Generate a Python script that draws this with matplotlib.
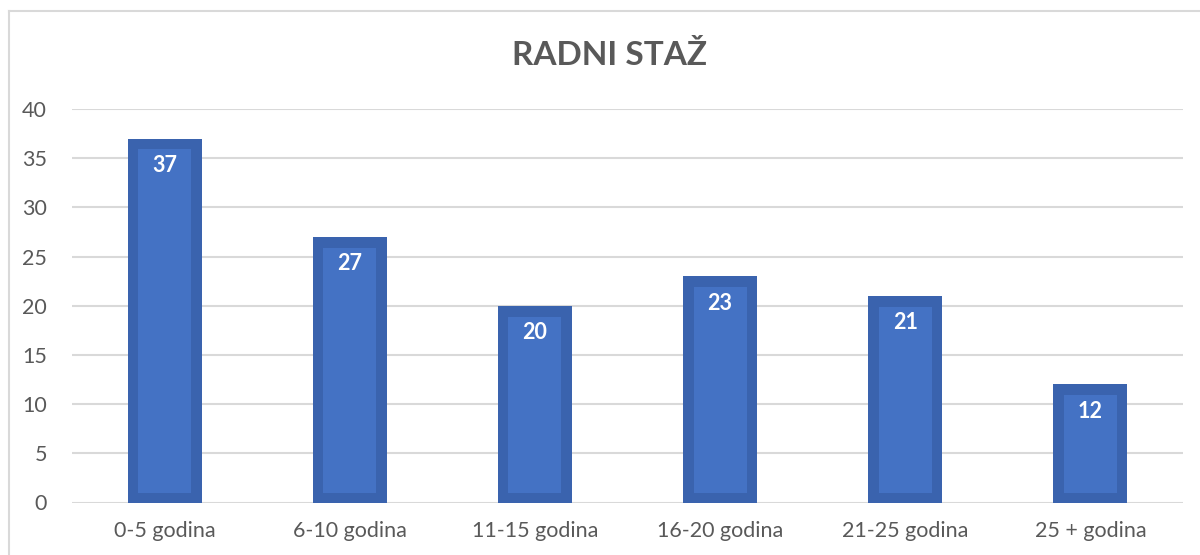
import matplotlib.pyplot as plt
from matplotlib.lines import Line2D

categories = ["0-5 godina", "6-10 godina", "11-15 godina", "16-20 godina", "21-25 godina", "25 + godina"]
values = [37, 27, 20, 23, 21, 12]
title = "RADNI STAŽ"

plt.rcParams['font.family'] = ['Lato', 'DejaVu Sans']

fig = plt.figure(figsize=(12, 5.55), dpi=100)
ax = fig.add_axes([72 / 1200, 1 - 502.5 / 555, 1111 / 1200, 393.5 / 555])

x = list(range(len(categories)))
# outer (darker) bar and inner (lighter) bar give the framed look
ax.bar(x, values, width=0.40, color="#3A63AE", zorder=2)
ax.bar(x, [v - 2.1 for v in values], bottom=1.0, width=0.286, color="#4472C4", zorder=3)

for xi, v in zip(x, values):
    ax.annotate(str(v), (xi, v), xytext=(0, -19.5), textcoords="offset points",
                ha="center", va="center", color="white", fontsize=15.5, fontweight="bold", zorder=4)

ax.set_xlim(-0.5, len(categories) - 0.5)
ax.set_ylim(0, 40)
ax.set_yticks(range(0, 41, 5))
ax.set_xticks(x)
ax.set_xticklabels(categories)
ax.yaxis.grid(True, color="#D9D9D9", linewidth=1.5, zorder=0)
ax.set_axisbelow(True)
for s in ax.spines.values():
    s.set_visible(False)
ax.tick_params(axis="both", length=0, labelsize=15.5, labelcolor="#595959")
ax.tick_params(axis="y", pad=18)
ax.tick_params(axis="x", pad=13)

fig.text(610 / 1200, 1 - 55 / 555, title, ha="center", va="center",
         fontsize=24, fontweight="bold", color="#595959")

# chart area frame (left and top visible)
fig.add_artist(Line2D([8.5 / 1200, 8.5 / 1200], [0, 1 - 10.5 / 555], transform=fig.transFigure,
                      color="#D9D9D9", linewidth=1.5))
fig.add_artist(Line2D([8.5 / 1200, 1], [1 - 10.5 / 555, 1 - 10.5 / 555], transform=fig.transFigure,
                      color="#D9D9D9", linewidth=1.5))

fig.savefig("out.png", dpi=100)
